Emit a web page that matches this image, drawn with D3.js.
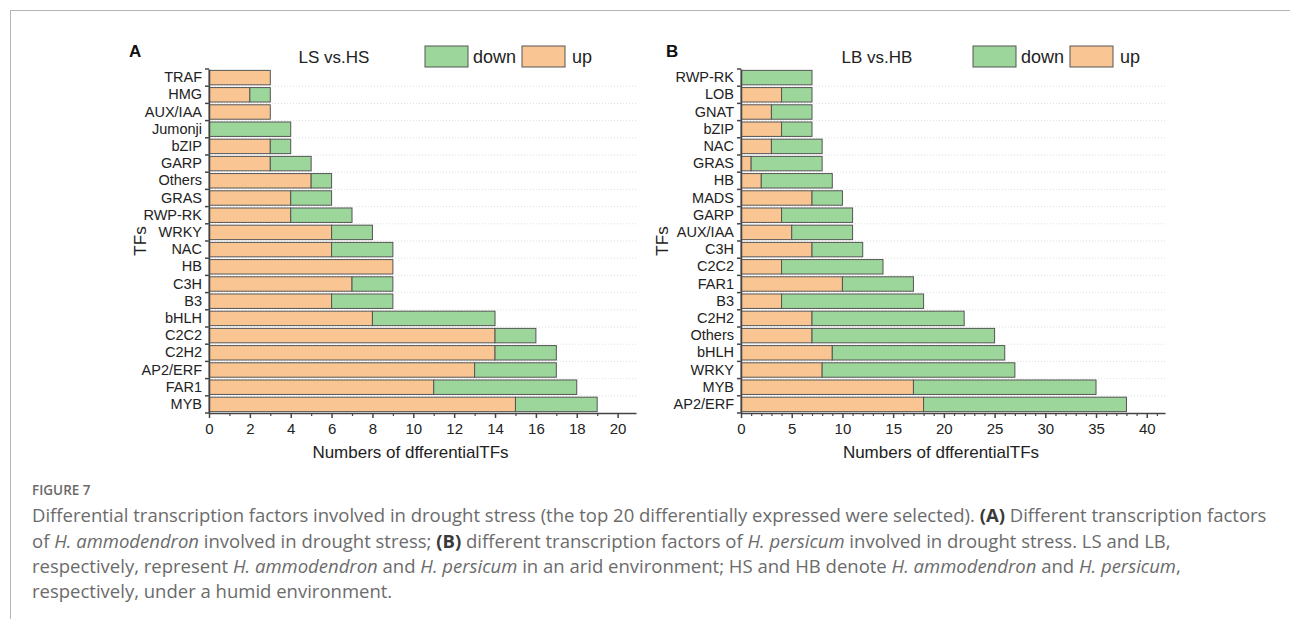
<!DOCTYPE html>
<html>
<head>
<meta charset="utf-8">
<script src="https://cdn.jsdelivr.net/npm/d3@7"></script>
<style>
  body { margin: 0; background: #fff; }
  svg { display: block; }
</style>
</head>
<body>
<svg id="fig" width="1290" height="619"></svg>
<script>
// panel A: LS vs HS
var catsA = ["TRAF", "HMG", "AUX/IAA", "Jumonji", "bZIP", "GARP", "Others", "GRAS", "RWP-RK", "WRKY",
  "NAC", "HB", "C3H", "B3", "bHLH", "C2C2", "C2H2", "AP2/ERF", "FAR1", "MYB"];
var upA   = [3, 2, 3, 0, 3, 3, 5, 4, 4, 6, 6, 9, 7, 6, 8, 14, 14, 13, 11, 15];
var downA = [0, 1, 0, 4, 1, 2, 1, 2, 3, 2, 3, 0, 2, 3, 6, 2, 3, 4, 7, 4];
var ticksA = [0, 2, 4, 6, 8, 10, 12, 14, 16, 18, 20];

// panel B: LB vs HB
var catsB = ["RWP-RK", "LOB", "GNAT", "bZIP", "NAC", "GRAS", "HB", "MADS", "GARP", "AUX/IAA",
  "C3H", "C2C2", "FAR1", "B3", "C2H2", "Others", "bHLH", "WRKY", "MYB", "AP2/ERF"];
var upB   = [0, 4, 3, 4, 3, 1, 2, 7, 4, 5, 7, 4, 10, 4, 7, 7, 9, 8, 17, 18];
var downB = [7, 3, 4, 3, 5, 7, 7, 3, 7, 6, 5, 10, 7, 14, 15, 18, 17, 19, 18, 20];
var ticksB = [0, 5, 10, 15, 20, 25, 30, 35, 40];

var UP_COL = "#f9c592";
var DOWN_COL = "#9dd69b";
var FONT = "'Liberation Sans', Arial, sans-serif";

var svg = d3.select("#fig");

// page frame
svg.append("line").attr("x1", 10).attr("x2", 1290).attr("y1", 10.5).attr("y2", 10.5)
  .attr("stroke", "#b5b5b5");
svg.append("line").attr("x1", 10.5).attr("x2", 10.5).attr("y1", 10).attr("y2", 619)
  .attr("stroke", "#b5b5b5");

function drawPanel(p){
  var g = svg.append("g");
  var rows = p.cats.map(function(c, i){ return {cat: c, up: p.up[i], down: p.down[i]}; });

  var x = d3.scaleLinear().domain([0, p.xmax]).range([p.left, p.right]);
  var y = d3.scaleBand().domain(p.cats).range([p.top, p.bottom])
    .paddingInner(0.16).paddingOuter(0.08);
  var step = y.step();
  var bounds = p.cats.map(function(c){ return y(c) - step * 0.08; });
  bounds.push(p.bottom);

  // dotted gridlines between rows
  g.selectAll("line.grid").data(bounds.slice(1, -1)).enter().append("line")
    .attr("class", "grid")
    .attr("x1", p.left).attr("x2", p.right)
    .attr("y1", function(d){ return d; }).attr("y2", function(d){ return d; })
    .attr("stroke", "#d6d6d6").attr("stroke-width", 0.8)
    .attr("stroke-dasharray", "1,2");

  // up segment
  g.selectAll("rect.up").data(rows.filter(function(d){ return d.up > 0; })).enter().append("rect")
    .attr("class", "up")
    .attr("x", x(0))
    .attr("y", function(d){ return y(d.cat); })
    .attr("width", function(d){ return x(d.up) - x(0); })
    .attr("height", y.bandwidth())
    .attr("fill", UP_COL).attr("stroke", "#555").attr("stroke-width", 1);

  // down segment stacked after up
  g.selectAll("rect.down").data(rows.filter(function(d){ return d.down > 0; })).enter().append("rect")
    .attr("class", "down")
    .attr("x", function(d){ return x(d.up); })
    .attr("y", function(d){ return y(d.cat); })
    .attr("width", function(d){ return x(d.up + d.down) - x(d.up); })
    .attr("height", y.bandwidth())
    .attr("fill", DOWN_COL).attr("stroke", "#555").attr("stroke-width", 1);

  // y axis: labels centred on bars, ticks on row boundaries
  var yAxis = g.append("g").attr("transform", "translate(" + p.left + ",0)")
    .call(d3.axisLeft(y).tickSize(0).tickPadding(7));
  yAxis.select(".domain").attr("stroke", "#444").attr("stroke-width", 1.5);
  yAxis.selectAll("text").attr("font-family", FONT).attr("font-size", 14.5).attr("fill", "#222");
  g.selectAll("line.ytick").data(bounds).enter().append("line")
    .attr("class", "ytick")
    .attr("x1", p.left - 4).attr("x2", p.left)
    .attr("y1", function(d){ return d; }).attr("y2", function(d){ return d; })
    .attr("stroke", "#444").attr("stroke-width", 1.5);

  // x axis: major + minor ticks
  var minor = d3.range(0, p.xmax, p.minorStep).filter(function(v){ return p.ticks.indexOf(v) < 0; });
  var xMinor = g.append("g").attr("transform", "translate(0," + p.bottom + ")")
    .call(d3.axisBottom(x).tickValues(minor).tickSize(3).tickFormat(""));
  xMinor.select(".domain").remove();
  xMinor.selectAll("line").attr("stroke", "#444").attr("stroke-width", 1.2);
  var xAxis = g.append("g").attr("transform", "translate(0," + p.bottom + ")")
    .call(d3.axisBottom(x).tickValues(p.ticks).tickSize(5).tickSizeOuter(0).tickPadding(5));
  xAxis.select(".domain").attr("stroke", "#444").attr("stroke-width", 1.5);
  xAxis.selectAll("line").attr("stroke", "#444").attr("stroke-width", 1.5);
  xAxis.selectAll("text").attr("font-family", FONT).attr("font-size", 15).attr("fill", "#222");

  // axis titles
  g.append("text").attr("x", (p.left + p.right) / 2 - 12).attr("y", 458)
    .attr("text-anchor", "middle").attr("font-family", FONT).attr("font-size", 17).attr("fill", "#222")
    .text("Numbers of dfferentialTFs");
  g.append("text").attr("transform", "translate(" + p.ylabX + ",241) rotate(-90)")
    .attr("text-anchor", "middle").attr("font-family", FONT).attr("font-size", 17).attr("fill", "#222")
    .text("TFs");

  // panel letter and comparison title
  g.append("text").attr("x", p.letterX).attr("y", 57)
    .attr("font-family", FONT).attr("font-size", 17).attr("font-weight", "bold").attr("fill", "#111")
    .text(p.letter);
  g.append("text").attr("x", p.titleX).attr("y", 63).attr("text-anchor", "middle")
    .attr("font-family", FONT).attr("font-size", 17).attr("fill", "#222")
    .text(p.title);

  // legend
  var leg = g.append("g").attr("transform", "translate(" + p.legX + ",46)");
  leg.append("rect").attr("x", 0).attr("y", 0).attr("width", 43).attr("height", 21)
    .attr("fill", DOWN_COL).attr("stroke", "#555");
  leg.append("text").attr("x", 48).attr("y", 17).attr("font-family", FONT).attr("font-size", 18)
    .attr("fill", "#222").text("down");
  leg.append("rect").attr("x", 97).attr("y", 0).attr("width", 43).attr("height", 21)
    .attr("fill", UP_COL).attr("stroke", "#555");
  leg.append("text").attr("x", 147).attr("y", 17).attr("font-family", FONT).attr("font-size", 18)
    .attr("fill", "#222").text("up");
}

drawPanel({cats: catsA, up: upA, down: downA, ticks: ticksA, xmax: 20.9, minorStep: 1,
  left: 209, right: 636, top: 69, bottom: 413,
  ylabX: 146, letter: "A", letterX: 129, title: "LS vs.HS", titleX: 334, legX: 425});

drawPanel({cats: catsB, up: upB, down: downB, ticks: ticksB, xmax: 41.8, minorStep: 1,
  left: 741, right: 1165, top: 69, bottom: 413,
  ylabX: 668, letter: "B", letterX: 666, title: "LB vs.HB", titleX: 877, legX: 973});

// caption
var CAP_FONT = "'Open Sans', 'Noto Sans', sans-serif";
svg.append("text").attr("x", 32).attr("y", 495)
  .attr("font-family", CAP_FONT).attr("font-size", 13.5).attr("font-weight", 600).attr("fill", "#6a6a6a")
  .text("FIGURE 7");

var capLines = [
  [["Differential transcription factors involved in drought stress (the top 20 differentially expressed were selected). ", ""], ["(A)", "b"], [" Different transcription factors", ""]],
  [["of ", ""], ["H. ammodendron", "i"], [" involved in drought stress; ", ""], ["(B)", "b"], [" different transcription factors of ", ""], ["H. persicum", "i"], [" involved in drought stress. LS and LB,", ""]],
  [["respectively, represent ", ""], ["H. ammodendron", "i"], [" and ", ""], ["H. persicum", "i"], [" in an arid environment; HS and HB denote ", ""], ["H. ammodendron", "i"], [" and ", ""], ["H. persicum", "i"], [",", ""]],
  [["respectively, under a humid environment.", ""]]
];
var capY = [522, 547.5, 573, 598];

capLines.forEach(function(line, i){
  var t = svg.append("text").attr("x", 32).attr("y", capY[i])
    .attr("font-family", CAP_FONT).attr("font-size", 18.5).attr("fill", "#6b6b6b")
    .attr("xml:space", "preserve");
  line.forEach(function(seg){
    t.append("tspan")
      .attr("font-weight", seg[1] == "b" ? "bold" : null)
      .attr("font-style", seg[1] == "i" ? "italic" : null)
      .attr("fill", seg[1] == "b" ? "#3a3a3a" : null)
      .text(seg[0]);
  });
});
</script>
</body>
</html>
